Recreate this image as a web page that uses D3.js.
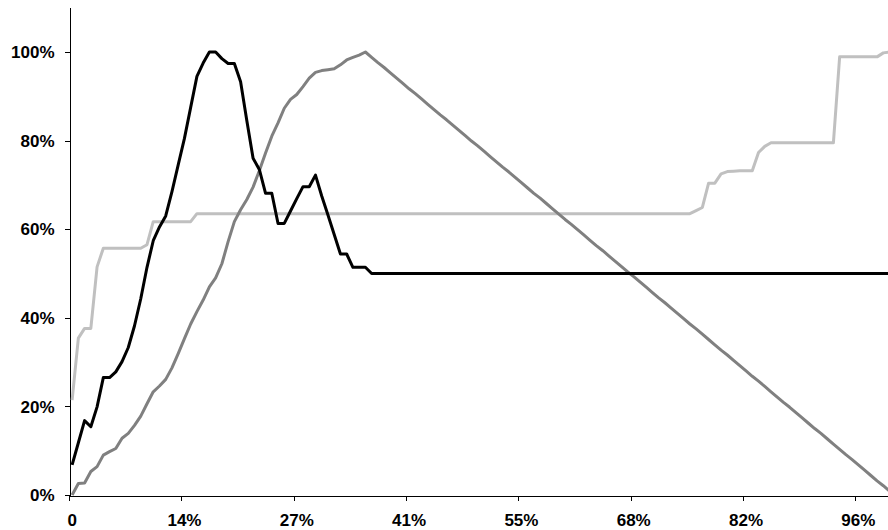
<!DOCTYPE html>
<html>
<head>
<meta charset="utf-8">
<script src="https://cdn.jsdelivr.net/npm/d3@7"></script>
<style>
  html, body { margin: 0; padding: 0; background: #ffffff; }
  svg { display: block; }
  text { font-family: "Liberation Sans", Arial, sans-serif; font-weight: bold; font-size: 17px; fill: #000; }
</style>
</head>
<body>
<svg id="chart" width="888" height="530"></svg>
<script>
// Category tick positions (index of the category) and their labels
const xTickIndex = [0, 18, 36, 54, 72, 90, 108, 126];
const xTickLabels = ["0", "14%", "27%", "41%", "55%", "68%", "82%", "96%"];
const yTickValues = [0, 20, 40, 60, 80, 100];

// Series values (percent), one per category 0..131
const blackSeries = [
  6.8, 11.8, 16.8, 15.4, 19.9, 26.5, 26.5, 27.8, 30.1, 33.3,
  38.2, 44.3, 51.4, 57.4, 60.5, 63.0, 68.5, 74.5, 80.5, 87.5,
  94.5, 97.5, 100, 100, 98.5, 97.4, 97.4, 93.3, 84.5, 76.0,
  73.5, 68.1, 68.1, 61.3, 61.3, 64.1, 66.9, 69.6, 69.6, 72.2,
  67.5, 63.2, 58.8, 54.4, 54.4, 51.4, 51.4, 51.4, 50, 50,
  50, 50, 50, 50, 50, 50, 50, 50, 50, 50,
  50, 50, 50, 50, 50, 50, 50, 50, 50, 50,
  50, 50, 50, 50, 50, 50, 50, 50, 50, 50,
  50, 50, 50, 50, 50, 50, 50, 50, 50, 50,
  50, 50, 50, 50, 50, 50, 50, 50, 50, 50,
  50, 50, 50, 50, 50, 50, 50, 50, 50, 50,
  50, 50, 50, 50, 50, 50, 50, 50, 50, 50,
  50, 50, 50, 50, 50, 50, 50, 50, 50, 50,
  50, 50
];

const darkSeries = [
  0, 2.6, 2.7, 5.3, 6.4, 9.0, 9.8, 10.5, 12.8, 13.9,
  15.7, 17.8, 20.6, 23.3, 24.6, 26.1, 28.7, 31.9, 35.3, 38.6,
  41.4, 44.0, 47.0, 49.0, 52.2, 57.2, 61.7, 64.4, 66.7, 69.5,
  73.2, 77.2, 81.0, 84.0, 87.3, 89.3, 90.4, 92.2, 94.1, 95.4,
  95.8, 96.0, 96.2, 97.1, 98.2, 98.8, 99.3, 100, 98.8, 97.6,
  96.5, 95.3, 94.1, 92.9, 91.7, 90.6, 89.4, 88.2, 87.0, 85.8,
  84.7, 83.5, 82.3, 81.1, 79.9, 78.8, 77.6, 76.4, 75.2, 74.0,
  72.9, 71.7, 70.5, 69.3, 68.1, 67.0, 65.8, 64.6, 63.4, 62.2,
  61.1, 59.9, 58.7, 57.5, 56.3, 55.2, 54.0, 52.8, 51.6, 50.4,
  49.3, 48.1, 46.9, 45.7, 44.5, 43.4, 42.2, 41.0, 39.8, 38.6,
  37.5, 36.3, 35.1, 33.9, 32.7, 31.6, 30.4, 29.2, 28.0, 26.8,
  25.7, 24.5, 23.3, 22.1, 20.9, 19.8, 18.6, 17.4, 16.2, 15.0,
  13.9, 12.7, 11.5, 10.3, 9.1, 8.0, 6.8, 5.6, 4.4, 3.2,
  2.1, 0.9
];

const lightSeries = [
  21.4, 35.4, 37.6, 37.6, 51.5, 55.7, 55.7, 55.7, 55.7, 55.7,
  55.7, 55.7, 56.5, 61.7, 61.7, 61.7, 61.7, 61.7, 61.7, 61.7,
  63.5, 63.5, 63.5, 63.5, 63.5, 63.5, 63.5, 63.5, 63.5, 63.5,
  63.5, 63.5, 63.5, 63.5, 63.5, 63.5, 63.5, 63.5, 63.5, 63.5,
  63.5, 63.5, 63.5, 63.5, 63.5, 63.5, 63.5, 63.5, 63.5, 63.5,
  63.5, 63.5, 63.5, 63.5, 63.5, 63.5, 63.5, 63.5, 63.5, 63.5,
  63.5, 63.5, 63.5, 63.5, 63.5, 63.5, 63.5, 63.5, 63.5, 63.5,
  63.5, 63.5, 63.5, 63.5, 63.5, 63.5, 63.5, 63.5, 63.5, 63.5,
  63.5, 63.5, 63.5, 63.5, 63.5, 63.5, 63.5, 63.5, 63.5, 63.5,
  63.5, 63.5, 63.5, 63.5, 63.5, 63.5, 63.5, 63.5, 63.5, 63.5,
  64.2, 64.9, 70.4, 70.4, 72.5, 73.0, 73.1, 73.2, 73.2, 73.2,
  77.3, 78.7, 79.5, 79.5, 79.5, 79.5, 79.5, 79.5, 79.5, 79.5,
  79.5, 79.5, 79.5, 98.9, 98.9, 98.9, 98.9, 98.9, 98.9, 98.9,
  99.8, 100
];

const nCategories = blackSeries.length;

const svg = d3.select("#chart");

// Categories sit between tick marks: category i is centred at i + 0.5
const x = d3.scaleLinear().domain([0, nCategories]).range([69, 69 + nCategories * 6.24]);
const y = d3.scaleLinear().domain([0, 110]).range([495, 7.7]);

// Y axis
const yAxis = d3.axisLeft(y)
  .tickValues(yTickValues)
  .tickSize(5)
  .tickSizeOuter(0)
  .tickPadding(10)
  .tickFormat(d => d + "%");

const gy = svg.append("g")
  .attr("transform", "translate(69.5,0)")
  .call(yAxis);
gy.select(".domain").attr("stroke", "#000").attr("shape-rendering", "crispEdges");
gy.selectAll(".tick line").attr("stroke", "#000").attr("shape-rendering", "crispEdges");
gy.selectAll(".tick text")
  .attr("font-family", null).attr("font-size", null)
  .attr("dy", "0.34em");

// X axis: tick marks at category boundaries
const xAxis = d3.axisBottom(x)
  .tickValues(xTickIndex)
  .tickSize(5)
  .tickSizeOuter(0)
  .tickFormat("");

const gx = svg.append("g")
  .attr("transform", "translate(0,495.5)")
  .call(xAxis);
gx.select(".domain").attr("stroke", "#000").attr("shape-rendering", "crispEdges");
gx.selectAll(".tick line").attr("stroke", "#000").attr("shape-rendering", "crispEdges");

// X labels centred on their categories
svg.append("g")
  .selectAll("text")
  .data(xTickIndex)
  .join("text")
  .attr("x", d => x(d + 0.5))
  .attr("y", 526)
  .attr("text-anchor", "middle")
  .text((d, i) => xTickLabels[i]);

// Lines
const line = d3.line()
  .x((d, i) => x(i + 0.5))
  .y(d => y(d));

const series = [
  { values: lightSeries, color: "#c0c0c0" },
  { values: darkSeries, color: "#808080" },
  { values: blackSeries, color: "#000000" }
];

svg.append("g")
  .selectAll("path")
  .data(series)
  .join("path")
  .attr("d", d => line(d.values))
  .attr("fill", "none")
  .attr("stroke", d => d.color)
  .attr("stroke-width", 3)
  .attr("stroke-linejoin", "round")
  .attr("stroke-linecap", "butt");
</script>
</body>
</html>
